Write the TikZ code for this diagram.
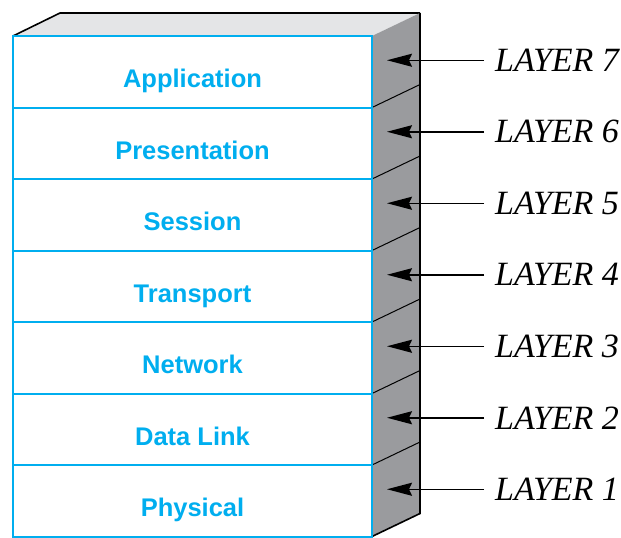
\documentclass[tikz,border=0pt]{standalone}
\usepackage{fontspec}
\usepackage{tikz}
\usetikzlibrary{arrows.meta}
\newfontfamily\boxfont{Liberation Sans}
\newfontfamily\layerfont{Liberation Serif}
\definecolor{osiblue}{HTML}{00AEEF}
\definecolor{sidegray}{HTML}{9A9B9E}
\definecolor{topgray}{HTML}{E4E5E7}
\tikzset{
  layerbox/.style={draw=osiblue, line width=2pt, fill=white, minimum width=359pt, minimum height=71.5pt, inner sep=0pt, text height=32pt, text depth=0pt, text=osiblue, font=\boxfont\bfseries\fontsize{25.5}{30}\selectfont},
  layertag/.style={anchor=west, inner xsep=11pt, inner ysep=0pt, font=\layerfont\itshape\fontsize{34}{38}\selectfont},
  pointer/.style={-{Stealth[length=25pt,width=13pt,inset=3pt]}, line width=1.5pt}
}
\begin{document}
\begin{tikzpicture}[x=1pt, y=-1pt]
		\useasboundingbox (0,0) rectangle (621,538);
		%Top
		\fill [topgray] (13,36) -- (60,13) -- (420,13) -- (372,36) -- cycle;
		\draw [line width=1.6pt, line join=round] (13,36) -- (60,13) -- (420,13);
		%Side
		\fill [sidegray] (372,36) -- (420,13) -- (420,513.5) -- (372,536.5) -- cycle;
		\draw [line width=1.6pt] (420,13) -- (420,513.5) -- (372,536.5);
		\draw [line width=1pt] (372,107.5) -- (420,84.5);
		\draw [line width=1pt] (372,179) -- (420,156);
		\draw [line width=1pt] (372,250.5) -- (420,227.5);
		\draw [line width=1pt] (372,322) -- (420,299);
		\draw [line width=1pt] (372,393.5) -- (420,370.5);
		\draw [line width=1pt] (372,465) -- (420,442);
		%Front
		\node [layerbox] (app) at (192.5,71.75) {Application};
		\node [layerbox] (pres) at (192.5,143.25) {Presentation};
		\node [layerbox] (sess) at (192.5,214.75) {Session};
		\node [layerbox] (trans) at (192.5,286.25) {Transport};
		\node [layerbox] (net) at (192.5,357.75) {Network};
		\node [layerbox] (link) at (192.5,429.25) {Data Link};
		\node [layerbox] (phys) at (192.5,500.75) {Physical};
		%Pointers
		\coordinate (t7) at (387,60.25);
		\coordinate (t6) at (387,131.75);
		\coordinate (t5) at (387,203.25);
		\coordinate (t4) at (387,274.75);
		\coordinate (t3) at (387,346.25);
		\coordinate (t2) at (387,417.75);
		\coordinate (t1) at (387,489.25);
		%Labels
		\node [layertag] (l7) at (484,60.25) {LAYER 7};
		\node [layertag] (l6) at (484,131.75) {LAYER 6};
		\node [layertag] (l5) at (484,203.25) {LAYER 5};
		\node [layertag] (l4) at (484,274.75) {LAYER 4};
		\node [layertag] (l3) at (484,346.25) {LAYER 3};
		\node [layertag] (l2) at (484,417.75) {LAYER 2};
		\node [layertag] (l1) at (484,489.25) {LAYER 1};
		\draw [pointer] (l7.west) -- (t7);
		\draw [pointer] (l6.west) -- (t6);
		\draw [pointer] (l5.west) -- (t5);
		\draw [pointer] (l4.west) -- (t4);
		\draw [pointer] (l3.west) -- (t3);
		\draw [pointer] (l2.west) -- (t2);
		\draw [pointer] (l1.west) -- (t1);
\end{tikzpicture}
\end{document}
